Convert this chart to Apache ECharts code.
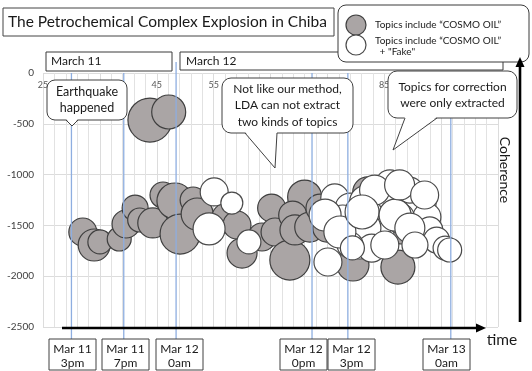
<!DOCTYPE html>
<html><head><meta charset="utf-8">
<script src="https://cdn.jsdelivr.net/npm/echarts@6/dist/echarts.min.js"></script>
<style>html,body{margin:0;padding:0;background:#fff}#c{width:532px;height:371px}</style>
</head><body><div id="c"></div>
<script>
// ---- data ----
const xMin = 25, xMax = 105, xStep = 10;
const yMin = -2500, yMax = 0, yStep = 500;

const grayX = [43.8,47.1,32.0,34.0,35.0,38.4,39.6,41.2,42.0,44.3,46.1,48.2,49.1,51.4,52.1,57.3,59.1,60.0,63.5,65.2,65.8,68.4,71.0,68.9,69.3,71.9,73.7,74.9,79.5,87.4,82.1,88.1,88.6];
const grayY = [-463,-384,-1565,-1693,-1663,-1634,-1486,-1329,-1447,-1476,-1201,-1260,-1585,-1250,-1388,-1427,-1496,-1772,-1614,-1329,-1565,-1841,-1221,-1398,-1545,-1516,-1329,-1526,-1890,-1910,-1171,-1565,-1201];
const graySize = [22,17,14,16,12,12,14,13,12,15,13,18,20,13,16,15,14,15,14,14,14,20,17,14,15,15,14,14,16,17,15,12,15];

const whiteX = [55.1,54.2,58.2,61.2,75.1,76.3,79.0,81.9,79.5,80.7,83.7,84.2,86.0,86.5,89.0,91.3,92.5,93.0,94.2,95.7,96.5,77.7,81.6,87.7,82.8,89.5,79.0,83.3,74.6,77.2,81.1,86.9,89.5,85.1,90.4,87.7,92.1,79.4];
const whiteY = [-1171,-1535,-1280,-1663,-1860,-1230,-1329,-1270,-1526,-1693,-1565,-1427,-1102,-1230,-1270,-1280,-1417,-1545,-1644,-1723,-1742,-1447,-1526,-1427,-1723,-1152,-1693,-1152,-1398,-1565,-1368,-1398,-1526,-1693,-1693,-1102,-1201,-1722];
const whiteSize = [14,16,11,12,14,14,15,17,15,14,17,17,15,15,14,16,14,13,13,12,12,15,16,15,14,13,13,15,16,16,17,16,15,14,13,15,14,12];

const timeMarkX = [30.0, 39.2, 48.4, 72.3, 78.6, 96.7];
const timeLabels = [["Mar 11","3pm"],["Mar 11","7pm"],["Mar 12","0am"],["Mar 12","0pm"],["Mar 12","3pm"],["Mar 13","0am"]];
const dayLabels = ["March 11","March 12"];
const titleText = "The Petrochemical Complex Explosion in Chiba";
const seriesNames = ["Topics include \u201cCOSMO OIL\u201d", "Topics include \u201cCOSMO OIL\u201d\n + \"Fake\""];
const callouts = [["Earthquake","happened"],["Not like our method,","LDA can not extract","two kinds of topics"],["Topics for correction","were only extracted"]];
const xAxisName = "time", yAxisName = "Coherence";

// ---- chart ----
const FONT = 'Lato, "Open Sans", sans-serif';
const GRAY = '#aaa5a5', EDGE = '#3f3f3f';
const chart = echarts.init(document.getElementById('c'), null, {renderer:'canvas'});
const zip = (xs, ys, ss) => xs.map((x,i)=>[x, ys[i], ss[i]]);

chart.setOption({
  animation:false,
  backgroundColor:'#fff',
  grid:{left:43, top:73, width:455, height:254, containLabel:false},
  xAxis:{type:'value', position:'top', min:xMin, max:xMax, interval:xStep,
    axisLine:{show:false}, axisTick:{show:false},
    axisLabel:{inside:true, margin:8, fontSize:9, color:'#595959', fontFamily:FONT},
    splitLine:{show:true, lineStyle:{color:'#dcdcdc', width:1}},
    minorTick:{show:false, splitNumber:5},
    minorSplitLine:{show:true, lineStyle:{color:'#e2e2e2', width:1}}},
  yAxis:{type:'value', min:yMin, max:yMax, interval:yStep,
    axisLine:{show:false}, axisTick:{show:false},
    axisLabel:{margin:9, fontSize:10, color:'#404040', fontFamily:FONT, formatter:v=>String(v)},
    splitLine:{show:true, lineStyle:{color:'#dcdcdc', width:1}}},
  series:[
    {name:seriesNames[0], type:'scatter', data:zip(grayX, grayY, graySize),
     symbolSize:v=>v[2]*2, itemStyle:{color:GRAY, borderColor:EDGE, borderWidth:1.2, opacity:1}, z:2},
    {name:seriesNames[1], type:'scatter', data:zip(whiteX, whiteY, whiteSize),
     symbolSize:v=>v[2]*2, itemStyle:{color:'#ffffff', borderColor:'#4a4a4a', borderWidth:1.2, opacity:1}, z:3}
  ]
});

// ---- annotations ----
const G = [];
let zc = 100;
function rect(x,y,w,h,r,opts){G.push(Object.assign({type:'rect', z:zc++, shape:{x,y,width:w,height:h,r:r||0}, style:{fill:'#fff', stroke:'#3a3a3a', lineWidth:1}}, opts||{}));}
function text(x,y,t,size,opts){G.push({type:'text', z:zc++, x, y, style:Object.assign({text:t, fontSize:size, fontFamily:FONT, fill:'#1a1a1a', align:'left', verticalAlign:'middle'}, opts||{})});}
function line(x1,y1,x2,y2,stroke,w){G.push({type:'line', z:zc++, shape:{x1,y1,x2,y2}, style:{stroke, lineWidth:w}});}
function callout(x,y,w,h,r,bl,br,tx,ty){
  rect(x,y,w,h,r,{style:{fill:'#fff', stroke:'#404040', lineWidth:1}});
  G.push({type:'polygon', z:zc++, shape:{points:[[bl,y+h-1.2],[tx,ty],[br,y+h-1.2]]}, style:{fill:'#fff'}});
  G.push({type:'polyline', z:zc++, shape:{points:[[bl,y+h],[tx,ty],[br,y+h]]}, style:{stroke:'#404040', lineWidth:1, fill:null}});
}

// blue time marker lines from data x
const yTop = chart.convertToPixel({gridIndex:0},[xMin,yMax])[1];
timeMarkX.forEach((tx,i)=>{
  const px = chart.convertToPixel({gridIndex:0},[tx,yMin])[0];
  G.push({type:'line', z:50, shape:{x1:px, y1:(i===2?62:yTop), x2:px, y2:339}, style:{stroke:'#8eaee0', lineWidth:1.3}});
});

// title
rect(3,8,331,28,0,{style:{fill:'#fff', stroke:'#444', lineWidth:1}});
text(8,22,titleText,15.5);

// day boxes
rect(180,52,323,18,0);
text(186,61,dayLabels[1],12);
rect(46,52,126,19,0);
text(51,61.5,dayLabels[0],12);

// callouts
callout(47,80,80,40,8,66,78,72,126);
text(87,92,callouts[0][0],12.5,{align:'center'});
text(87,108,callouts[0][1],12.5,{align:'center'});
callout(222,78,131,55,9,245,277,275,168);
callouts[1].forEach((t,i)=>text(287.5,89+i*16.5,t,12,{align:'center'}));
callout(388,71,129,47,9,405,437,393,150);
callouts[2].forEach((t,i)=>text(452.5,87+i*16,t,12,{align:'center'}));

// legend
rect(338,5,191,57,8,{style:{fill:'#fff', stroke:'#3a3a3a', lineWidth:1}});
G.push({type:'circle', z:zc++, shape:{cx:356, cy:25, r:10}, style:{fill:GRAY, stroke:EDGE, lineWidth:1.2}});
G.push({type:'circle', z:zc++, shape:{cx:356, cy:45, r:10}, style:{fill:'#fff', stroke:'#4a4a4a', lineWidth:1.2}});
text(375,25,seriesNames[0],10);
const s2 = seriesNames[1].split('\n');
text(375,41,s2[0],10);
text(377,52,s2[1],10);

// axes arrows
line(62,328,478,328,'#000',2.6);
G.push({type:'polygon', z:zc++, shape:{points:[[476,323.5],[486,328],[476,332.5]]}, style:{fill:'#000'}});
line(520,322,520,66,'#000',2.6);
G.push({type:'polygon', z:zc++, shape:{points:[[515.5,67],[520,57],[524.5,67]]}, style:{fill:'#000'}});
text(502,340,xAxisName,15.5,{align:'center'});
G.push({type:'text', z:zc++, x:505, y:170, rotation:-Math.PI/2, style:{text:yAxisName, fontSize:14, fontFamily:FONT, fill:'#1a1a1a', align:'center', verticalAlign:'middle'}});

// bottom time boxes
const boxL = [49,102,156,280,328,423];
timeLabels.forEach((tl,i)=>{
  rect(boxL[i],339,47,31,0,{style:{fill:'#fff', stroke:'#404040', lineWidth:1}});
  text(boxL[i]+23.5,349,tl[0],12,{align:'center'});
  text(boxL[i]+23.5,363,tl[1],12,{align:'center'});
});

chart.setOption({graphic:G});
</script></body></html>
